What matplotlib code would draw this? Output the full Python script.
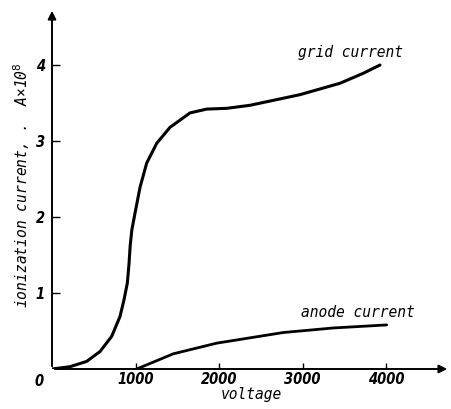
import matplotlib.pyplot as plt

# grid current
grid_v = [0, 215, 415, 575, 715, 814, 862, 902, 922, 936, 956, 994, 1054, 1134, 1254, 1413, 1653, 1852, 2092, 2371, 2970, 3449, 3725, 3928]
grid_i = [0, 0.03, 0.10, 0.23, 0.43, 0.69, 0.91, 1.13, 1.38, 1.62, 1.83, 2.05, 2.39, 2.71, 2.97, 3.18, 3.37, 3.42, 3.43, 3.47, 3.61, 3.76, 3.89, 4.0]

# anode current
anode_v = [1014, 1453, 1972, 2371, 2770, 3369, 4008]
anode_i = [0.0, 0.20, 0.34, 0.41, 0.48, 0.54, 0.58]

xticks = [1000, 2000, 3000, 4000]
yticks = [1, 2, 3, 4]

fig = plt.figure(figsize=(4.51, 4.09), dpi=100)
ax = fig.add_axes([0.1153, 0.0978, 0.8825, 0.8826])
xmax, ymax = 4766, 4.75
ax.set_xlim(0, xmax)
ax.set_ylim(0, ymax)

ax.plot(grid_v, grid_i, 'k-', lw=2.2, solid_capstyle='round')
ax.plot(anode_v, anode_i, 'k-', lw=2.0, solid_capstyle='round')

for s in ax.spines.values():
    s.set_visible(False)

# axes drawn as arrows
ax.annotate('', xy=(1.0, 0), xytext=(0, 0), xycoords='axes fraction',
            arrowprops=dict(arrowstyle='-|>', color='k', lw=1.4, mutation_scale=12))
ax.annotate('', xy=(0, 1.0), xytext=(0, 0), xycoords='axes fraction',
            arrowprops=dict(arrowstyle='-|>', color='k', lw=1.4, mutation_scale=12))

mono = 'DejaVu Sans Mono'
fnt = dict(family='DejaVu Sans', stretch='condensed', style='italic', fontsize=10.5, fontweight='bold')
txt = dict(family=mono, style='italic', fontsize=10.5)
ax.set_xticks(xticks)
ax.set_xticklabels([str(v) for v in xticks], **fnt)
ax.set_yticks(yticks)
ax.set_yticklabels([str(v) for v in yticks], **fnt)
ax.tick_params(axis='x', direction='in', length=4, width=1, pad=2)
ax.tick_params(axis='y', direction='in', length=6, width=1, pad=5)
ax.text(-160, -0.06, '0', ha='center', va='top', **fnt)

ax.set_xlabel('voltage', labelpad=0, **txt)
ax.text(-360, 2.42, 'ionization current, .  A\u00d710$^8$', rotation=90,
        ha='center', va='center', **txt)

ax.text(3580, 4.17, 'grid current', ha='center', va='center', **txt)
ax.text(3665, 0.74, 'anode current', ha='center', va='center', **txt)

fig.savefig('out.png', dpi=100)
